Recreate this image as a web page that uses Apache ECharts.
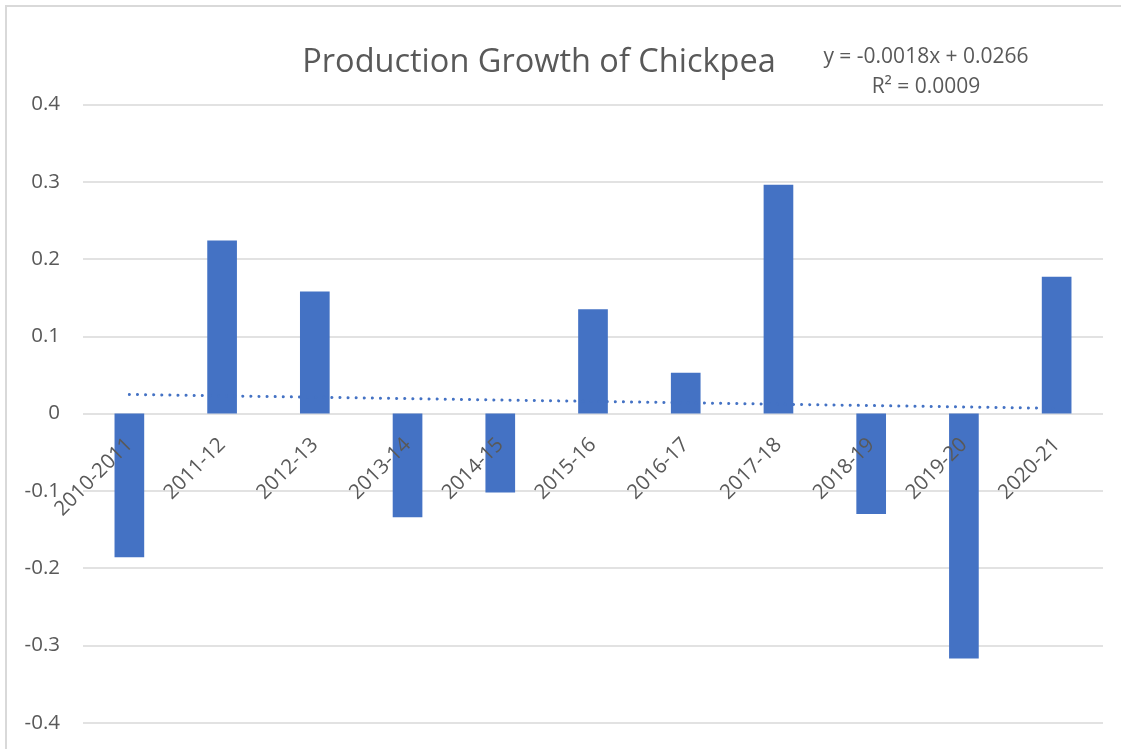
<!DOCTYPE html>
<html>
<head>
<meta charset="utf-8">
<script src="https://cdn.jsdelivr.net/npm/echarts@6/dist/echarts.min.js"></script>
<style>
html,body{margin:0;padding:0;background:#fff;}
#chart{width:1121px;height:749px;}
</style>
</head>
<body>
<div id="chart"></div>
<script>
var categories = ['2010-2011','2011-12','2012-13','2013-14','2014-15','2015-16','2016-17','2017-18','2018-19','2019-20','2020-21'];
var growth = [-0.186, 0.224, 0.158, -0.134, -0.102, 0.135, 0.053, 0.296, -0.130, -0.317, 0.177];
// Linear trendline values read from the displayed equation y = -0.0018x + 0.0266
var trend = [0.0248, 0.0230, 0.0212, 0.0194, 0.0176, 0.0158, 0.0140, 0.0122, 0.0104, 0.0086, 0.0068];
var yTicks = { min: -0.4, max: 0.4, interval: 0.1 };
var titleText = 'Production Growth of Chickpea';
var eqText = 'y = -0.0018x + 0.0266';
var r2Text = 'R² = 0.0009';

var FONT = 'Open Sans, Liberation Sans, sans-serif';
var GRID_TOP = 104.5, GRID_BOTTOM = 26.3, H = 749;
// pixel row of the zero line inside the main grid (labels grid ends there)
var zeroFrac = yTicks.max / (yTicks.max - yTicks.min);
var zeroY = GRID_TOP + zeroFrac * (H - GRID_BOTTOM - GRID_TOP);

var chart = echarts.init(document.getElementById('chart'), null, {renderer:'canvas'});
chart.setOption({
  animation: false,
  backgroundColor: '#fff',
  graphic: [
    {type:'rect', shape:{x:6, y:6, width:1200, height:800}, style:{fill:'none', stroke:'#d9d9d9', lineWidth:2}, silent:true, z:-1},
    {type:'text', style:{text: eqText, fill:'#595959', font:'21px ' + FONT, align:'center', verticalAlign:'middle'}, x:926, y:57},
    {type:'text', style:{text: r2Text, fill:'#595959', font:'21px ' + FONT, align:'center', verticalAlign:'middle'}, x:926, y:87}
  ],
  title: {
    text: titleText,
    left: 534, top: 41,
    textAlign: 'center',
    textStyle: {fontFamily: FONT, fontSize: 32.5, fontWeight: 'normal', color: '#595959'}
  },
  grid: [
    {left: 83, right: 18, top: GRID_TOP, bottom: GRID_BOTTOM, containLabel: false, outerBoundsMode: 'none'},
    {left: 83, right: 18, top: GRID_TOP, bottom: H - zeroY, containLabel: false, outerBoundsMode: 'none'}
  ],
  xAxis: [
    {
      type: 'category', gridIndex: 0,
      data: categories,
      axisLine: {show: false},
      axisTick: {show: false},
      axisLabel: {show: false},
      splitLine: {show: false}
    },
    {
      type: 'category', gridIndex: 1, z: 10,
      data: categories,
      axisLine: {show: false},
      axisTick: {show: false},
      axisLabel: {rotate: 45, margin: 28, fontSize: 20.5, color: '#595959', fontFamily: FONT, interval: 0},
      splitLine: {show: false}
    }
  ],
  yAxis: [
    {
      type: 'value', gridIndex: 0,
      min: yTicks.min, max: yTicks.max, interval: yTicks.interval,
      axisLine: {show: false},
      axisTick: {show: false},
      axisLabel: {fontSize: 20.5, color: '#595959', fontFamily: FONT, margin: 23},
      splitLine: {lineStyle: {color: '#d9d9d9', width: 1.5}}
    },
    {
      type: 'value', gridIndex: 1, min: 0, max: 1, show: false
    }
  ],
  series: [
    {
      type: 'bar',
      xAxisIndex: 0, yAxisIndex: 0,
      data: growth,
      barWidth: '32%',
      itemStyle: {color: '#4472C4'},
      z: 2
    },
    {
      type: 'line',
      xAxisIndex: 0, yAxisIndex: 0,
      data: trend,
      symbol: 'none',
      lineStyle: {color: '#4472C4', width: 3, type: [0.1, 8], cap: 'round'},
      z: 3
    }
  ]
});
</script>
</body>
</html>
